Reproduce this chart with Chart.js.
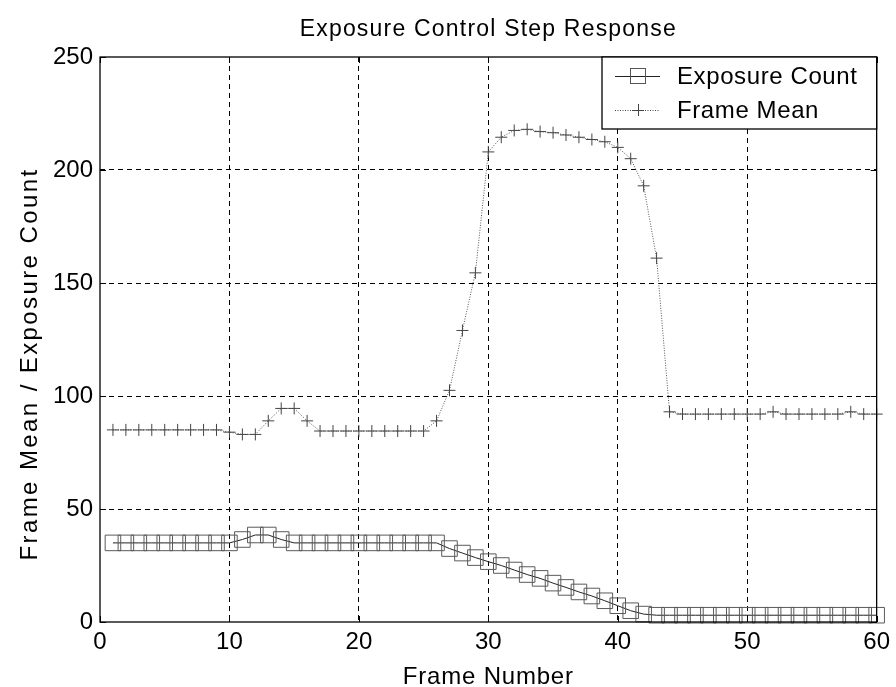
<!DOCTYPE html>
<html>
<head>
<meta charset="utf-8">
<title>Exposure Control Step Response</title>
<script src="https://cdn.jsdelivr.net/npm/chart.js@4.4.0/dist/chart.umd.min.js"></script>
<style>
  html, body { margin: 0; padding: 0; background: #fff; }
  canvas { display: block; }
</style>
</head>
<body>
<canvas id="stepChart" width="896" height="687"></canvas>
<script>
// Frame numbers (x axis)
const frames = [
    1, 2, 3, 4, 5, 6, 7, 8, 9, 10,
    11, 12, 13, 14, 15, 16, 17, 18, 19, 20,
    21, 22, 23, 24, 25, 26, 27, 28, 29, 30,
    31, 32, 33, 34, 35, 36, 37, 38, 39, 40,
    41, 42, 43, 44, 45, 46, 47, 48, 49, 50,
    51, 52, 53, 54, 55, 56, 57, 58, 59, 60
];

// Exposure count per frame
const exposureCount = [
    35, 35, 35, 35, 35, 35, 35, 35, 35, 35,
    36.5, 38.5, 38.5, 36.5, 35, 35, 35, 35, 35, 35,
    35, 35, 35, 35, 35, 35, 32.5, 30.5, 28.5, 26.7,
    25, 23, 21, 19.3, 17.2, 15.3, 13.3, 11.5, 9.4, 7.2,
    5, 3.5, 3, 3, 3, 3, 3, 3, 3, 3,
    3, 3, 3, 3, 3, 3, 3, 3, 3, 3
];

// Frame mean per frame
const frameMean = [
    85, 85, 85, 85, 85, 85, 85, 85, 85, 84,
    83, 83, 89, 94.5, 94.5, 89, 84.5, 84.5, 84.5, 84.5,
    84.5, 84.5, 84.5, 84.5, 84.5, 89, 102.5, 129, 154.5, 208,
    214.5, 217.5, 218, 217, 216.5, 215.5, 214.5, 213.5, 212.5, 210,
    205, 193, 161, 93, 92, 92, 92, 92, 92, 92,
    92, 93, 92, 92, 92, 92, 92, 93, 92, 92
];

// Axis ticks and texts
const xTicks = [0, 10, 20, 30, 40, 50, 60];
const yTicks = [0, 50, 100, 150, 200, 250];
const chartTitle = 'Exposure Control Step Response';
const xTitle = 'Frame Number';
const yTitle = 'Frame Mean / Exposure Count';
const seriesNames = ['Exposure Count', 'Frame Mean'];

const FONT = '"Liberation Sans", Arial, Helvetica, sans-serif';

function toPoints(values) {
    return frames.map((f, i) => ({ x: f, y: values[i] }));
}

// Hide grid lines on the box edges, the frame is drawn separately
function gridColor(ctx) {
    const scale = ctx.scale;
    if (ctx.tick && (ctx.tick.value === scale.min || ctx.tick.value === scale.max)) {
        return 'rgba(0,0,0,0)';
    }
    return '#000';
}

// Box around the plot with inward ticks (MATLAB look)
const framePlugin = {
    id: 'plotFrame',
    afterDatasetsDraw(chart) {
        const ctx = chart.ctx;
        const a = chart.chartArea;
        const xs = chart.scales.x;
        const ys = chart.scales.y;
        const len = 6;
        ctx.save();
        ctx.strokeStyle = '#000';
        ctx.lineWidth = 1.3;
        ctx.strokeRect(a.left, a.top, a.right - a.left, a.bottom - a.top);
        ctx.lineWidth = 1;
        ctx.beginPath();
        xTicks.forEach(v => {
            const px = Math.round(xs.getPixelForValue(v)) + 0.5;
            ctx.moveTo(px, a.bottom); ctx.lineTo(px, a.bottom - len);
            ctx.moveTo(px, a.top); ctx.lineTo(px, a.top + len);
        });
        yTicks.forEach(v => {
            const py = Math.round(ys.getPixelForValue(v)) + 0.5;
            ctx.moveTo(a.left, py); ctx.lineTo(a.left + len, py);
            ctx.moveTo(a.right, py); ctx.lineTo(a.right - len, py);
        });
        ctx.stroke();
        ctx.restore();
    }
};

// Title and axis labels
const labelsPlugin = {
    id: 'plotLabels',
    afterDraw(chart) {
        const ctx = chart.ctx;
        const a = chart.chartArea;
        const midX = (a.left + a.right) / 2;
        ctx.save();
        ctx.fillStyle = '#000';
        ctx.textAlign = 'center';
        ctx.textBaseline = 'alphabetic';

        ctx.font = '23px ' + FONT;
        ctx.letterSpacing = '1.2px';
        ctx.fillText(chartTitle, midX, 36);

        ctx.font = '24px ' + FONT;
        ctx.letterSpacing = '0.8px';
        ctx.fillText(xTitle, midX, 684);

        ctx.font = '24px ' + FONT;
        ctx.letterSpacing = '2.4px';
        ctx.translate(37, 364);
        ctx.rotate(-Math.PI / 2);
        ctx.fillText(yTitle, 0, 0);
        ctx.restore();
    }
};

// Legend box in the upper right corner
const legendPlugin = {
    id: 'boxLegend',
    afterDraw(chart) {
        const ctx = chart.ctx;
        const a = chart.chartArea;
        const left = 602, top = a.top, right = a.right, bottom = 129;
        ctx.save();
        ctx.fillStyle = '#fff';
        ctx.fillRect(left, top, right - left, bottom - top);
        ctx.strokeStyle = '#000';
        ctx.lineWidth = 1.3;
        ctx.strokeRect(left, top, right - left, bottom - top);

        const rows = [76, 110];
        const sx0 = 615, sx1 = 660, mx = 638;

        // Exposure Count sample
        ctx.lineWidth = 1;
        ctx.strokeStyle = '#222';
        ctx.beginPath();
        ctx.moveTo(sx0, rows[0] + 0.5); ctx.lineTo(sx1, rows[0] + 0.5);
        ctx.stroke();
        ctx.strokeStyle = '#555';
        ctx.strokeRect(mx - 7.5, rows[0] - 7.5, 15, 15);

        // Frame Mean sample
        ctx.strokeStyle = '#444';
        ctx.setLineDash([1, 1.5]);
        ctx.beginPath();
        ctx.moveTo(sx0, rows[1] + 0.5); ctx.lineTo(sx1, rows[1] + 0.5);
        ctx.stroke();
        ctx.setLineDash([]);
        ctx.beginPath();
        ctx.moveTo(mx - 6, rows[1] + 0.5); ctx.lineTo(mx + 6, rows[1] + 0.5);
        ctx.moveTo(mx + 0.5, rows[1] - 6); ctx.lineTo(mx + 0.5, rows[1] + 6);
        ctx.stroke();

        ctx.fillStyle = '#000';
        ctx.font = '24px ' + FONT;
        ctx.letterSpacing = '0.6px';
        ctx.textAlign = 'left';
        ctx.textBaseline = 'middle';
        ctx.fillText(seriesNames[0], 677, rows[0] + 1);
        ctx.fillText(seriesNames[1], 677, rows[1] + 1);
        ctx.restore();
    }
};

function initializeChart() {
    const ctx = document.getElementById('stepChart').getContext('2d');
    new Chart(ctx, {
        type: 'line',
        data: {
            datasets: [{
                label: seriesNames[0],
                data: toPoints(exposureCount),
                borderColor: '#222',
                borderWidth: 1,
                pointStyle: 'rect',
                pointRadius: 11,
                pointBorderColor: '#5a5a5a',
                pointBorderWidth: 1,
                pointBackgroundColor: 'rgba(0,0,0,0)',
                tension: 0,
                clip: false
            }, {
                label: seriesNames[1],
                data: toPoints(frameMean),
                borderColor: '#555',
                borderWidth: 1,
                borderDash: [1, 1.5],
                pointStyle: 'cross',
                pointRadius: 6,
                pointBorderColor: '#444',
                pointBorderWidth: 1,
                tension: 0,
                clip: false
            }]
        },
        options: {
            responsive: false,
            animation: false,
            layout: {
                padding: { top: 57, right: 16, left: 0, bottom: 0 }
            },
            plugins: {
                legend: { display: false },
                title: { display: false },
                tooltip: { enabled: false }
            },
            scales: {
                x: {
                    type: 'linear',
                    min: 0,
                    max: 60,
                    afterBuildTicks: scale => { scale.ticks = xTicks.map(v => ({ value: v })); },
                    afterFit: scale => { scale.height = 65; },
                    grid: { color: gridColor, lineWidth: 1, drawTicks: false },
                    border: { display: false, dash: [5, 4] },
                    ticks: {
                        color: '#000',
                        padding: 6,
                        maxRotation: 0,
                        font: { family: FONT, size: 24 }
                    }
                },
                y: {
                    type: 'linear',
                    min: 0,
                    max: 250,
                    afterBuildTicks: scale => { scale.ticks = yTicks.map(v => ({ value: v })); },
                    afterFit: scale => { scale.width = 100; },
                    grid: { color: gridColor, lineWidth: 1, drawTicks: false },
                    border: { display: false, dash: [5, 4] },
                    ticks: {
                        color: '#000',
                        padding: 7,
                        font: { family: FONT, size: 24 }
                    }
                }
            }
        },
        plugins: [framePlugin, labelsPlugin, legendPlugin]
    });
}

document.addEventListener('DOMContentLoaded', initializeChart);
</script>
</body>
</html>
